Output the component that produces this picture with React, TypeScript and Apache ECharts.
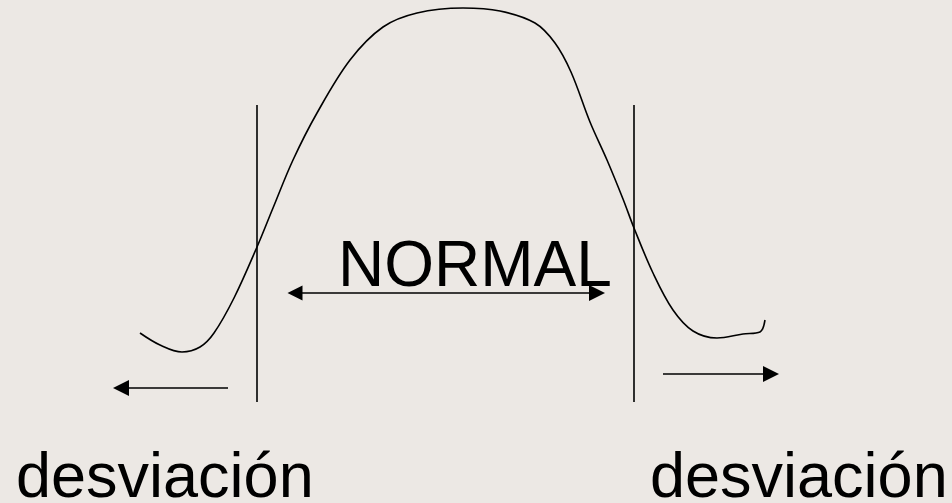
import React, { useEffect, useRef } from "react";
import * as echarts from "echarts";

// Hand-drawn bell curve, traced points [x, y] in the drawing's own units
const curvePoints: number[][] = [
  [140, 333], [160, 345], [182, 352], [200, 347], [214, 333], [234, 298],
  [257, 247], [273, 208], [293, 160], [317, 113], [350, 60], [383, 27],
  [417, 13], [463, 8], [500, 11], [535, 23], [555, 43], [571, 72],
  [590, 122], [607, 160], [623, 199], [634, 228], [653, 273], [673, 310],
  [693, 331], [717, 338], [743, 334], [760, 332], [765, 320],
];

// Vertical limit lines
const leftLimit: number[][] = [[257, 105], [257, 402]];
const rightLimit: number[][] = [[634, 105], [634, 402]];

// Arrows: [from, to]
const normalArrow: number[][] = [[295, 293], [597, 293]];
const leftArrow: number[][] = [[228, 388], [121, 388]];
const rightArrow: number[][] = [[663, 374], [771, 374]];

// Labels
const labelNormal = "NORMAL";
const labelDev = "desviación";

export default function App() {
  const ref = useRef<HTMLDivElement>(null);

  useEffect(() => {
    if (!ref.current) return;
    const chart = echarts.init(ref.current, null, { renderer: "svg" });
    const lineStyle = { color: "#000", width: 1.6 };
    const font = "'Liberation Sans', Arial, sans-serif";
    const arrowSize = [15, 16];
    chart.setOption({
      animation: false,
      backgroundColor: "#ECE8E4",
      grid: { left: 0, right: 0, top: 0, bottom: 0 },
      xAxis: { type: "value", min: 0, max: 952, show: false },
      yAxis: { type: "value", min: 0, max: 503, inverse: true, show: false },
      series: [
        {
          type: "line",
          data: curvePoints,
          smooth: 0.35,
          showSymbol: false,
          lineStyle,
        },
        { type: "line", data: leftLimit, showSymbol: false, lineStyle },
        { type: "line", data: rightLimit, showSymbol: false, lineStyle },
        {
          type: "lines",
          coordinateSystem: "cartesian2d",
          symbol: ["triangle", "triangle"],
          symbolSize: arrowSize,
          lineStyle: { color: "#000", width: 1.6, opacity: 1 },
          data: [{ coords: normalArrow }],
        },
        {
          type: "lines",
          coordinateSystem: "cartesian2d",
          symbol: ["none", "triangle"],
          symbolSize: arrowSize,
          lineStyle: { color: "#000", width: 1.6, opacity: 1 },
          data: [{ coords: leftArrow }, { coords: rightArrow }],
        },
      ],
      graphic: [
        {
          type: "text",
          x: 338,
          y: 264,
          style: {
            text: labelNormal,
            fill: "#000",
            font: `64px ${font}`,
            verticalAlign: "middle",
          },
        },
        {
          type: "text",
          x: 16,
          y: 475,
          style: {
            text: labelDev,
            fill: "#000",
            font: `63px ${font}`,
            verticalAlign: "middle",
          },
        },
        {
          type: "text",
          x: 650,
          y: 475,
          style: {
            text: labelDev,
            fill: "#000",
            font: `63px ${font}`,
            verticalAlign: "middle",
          },
        },
      ],
    });
    return () => chart.dispose();
  }, []);

  return (
    <div
      ref={ref}
      style={{ position: "fixed", left: 0, top: 0, width: 952, height: 503 }}
    />
  );
}
